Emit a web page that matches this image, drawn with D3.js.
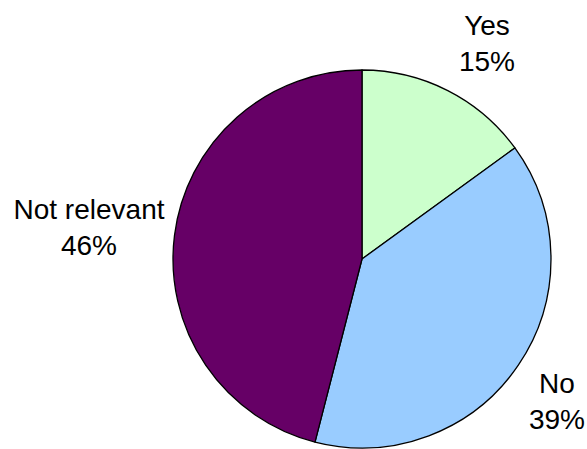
<!DOCTYPE html>
<html>
<head>
<meta charset="utf-8">
<script src="https://cdn.jsdelivr.net/npm/d3@7"></script>
<style>
  html, body { margin: 0; padding: 0; background: #fff; }
  svg { display: block; }
</style>
</head>
<body>
<svg id="chart" width="587" height="449"></svg>
<script>
// Survey answers and their shares (percent)
const categories = ["Yes", "No", "Not relevant"];
const values = [15, 39, 46];
const colors = ["#CCFFCC", "#99CCFF", "#660066"];

const svg = d3.select("#chart");
const cx = 362, cy = 259, radius = 189;

const pie = d3.pie().sort(null).value(d => d.value);
const arc = d3.arc().innerRadius(0).outerRadius(radius);

const data = categories.map((c, i) => ({ name: c, value: values[i], color: colors[i] }));
const arcs = pie(data);

const g = svg.append("g").attr("transform", `translate(${cx},${cy})`);

g.selectAll("path")
  .data(arcs)
  .join("path")
  .attr("d", arc)
  .attr("fill", d => d.data.color)
  .attr("stroke", "#000")
  .attr("stroke-width", 1.3)
  .attr("stroke-linejoin", "round");

// Outside labels: name above, percentage below
const labelPos = {
  "Yes": [487, 35],
  "No": [557, 393],
  "Not relevant": [89, 219]
};

const labels = svg.append("g")
  .attr("font-family", "'Liberation Sans', Arial, sans-serif")
  .attr("font-size", 28)
  .attr("fill", "#000")
  .attr("text-anchor", "middle");

arcs.forEach(d => {
  const [x, y] = labelPos[d.data.name];
  const t = labels.append("text").attr("x", x).attr("y", y);
  t.append("tspan").attr("x", x).text(d.data.name);
  t.append("tspan").attr("x", x).attr("dy", 36).text(d.data.value + "%");
});
</script>
</body>
</html>
